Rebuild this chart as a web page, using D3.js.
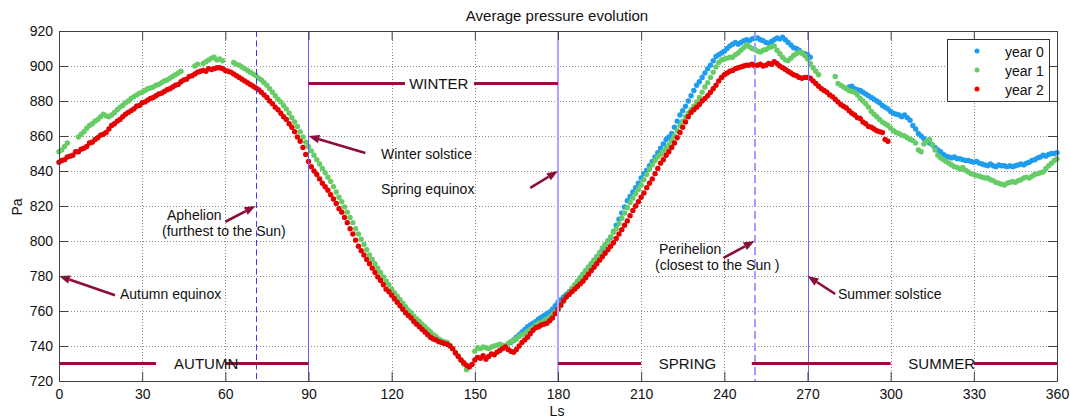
<!DOCTYPE html>
<html><head><meta charset="utf-8">
<script src="https://cdn.jsdelivr.net/npm/d3@7"></script>
<style>
body{margin:0;background:#fff}
svg{display:block}
text{font-family:"Liberation Sans",Arial,Helvetica,sans-serif;fill:#111}
</style>
</head><body>
<svg id="chart" width="1070" height="419"></svg>
<script>
// ---------------- DATA ----------------
const lsTicks = [0,30,60,90,120,150,180,210,240,270,300,330,360];
const paTicks = [720,740,760,780,800,820,840,860,880,900,920];
const seriesNames = ["year 0","year 1","year 2"];

// year 0 (blue): one value per Ls degree, starting at Ls 163
const year0Start = 163;
const year0 = [
742,743.5,745,746.5,748,749.5,751,
752,753,754,755.5,756.5,757.5,758.5,759.5,761,763,
765,766.5,768,769.5,771,772,774,776.5,779,781,
783,785,787,789,791,793,795,797.5,800,802,
805.5,809,812.5,816,819.5,823,825.5,828,830.5,833,
836,838.5,840.5,843,845.5,848,850.5,853,855.5,858,
859.5,861.5,865,868.5,872,874.5,877,880,883,886,
889,891,893.5,896,898.5,900.5,903,905.5,906.5,907.5,
908.5,910,911.5,912.5,913.5,912.5,913.5,914.5,915,914.5,
915.5,916,916,915,914.5,913.5,913,914,915,916,
915.5,916.5,915,913.5,912,910.5,910,909,907.5,907,
906.5,905,null,null,null,null,null,null,null,null,
null,null,null,null,null,888,888.5,887,886.5,886,
885,884,883,882,881,880,879,877.5,876.5,875.5,
874,873,872.5,872,871,872,870.5,869,866,864,
861.5,860,858.5,857,856,855,853.5,852,851,849.5,
848.5,848,847.5,848,847,847,846.5,846,846,845.5,
845,845.5,844.5,844,843.5,843,844,843,842.5,843.5,
843,843,842.5,843,842.5,843,843.5,844,843.5,844.5,
845,846,846.5,847.5,848,849,848.5,849.5,850,850,
850.5];

// year 1 (green): starting at Ls 0
const year1Start = 0;
const year1 = [
851,852,854,856,null,null,null,859.5,861,862.5,
864.5,866,867,868.5,869.5,871,872.5,871.5,871,872,
873.5,875,876.5,877.5,879,880,881.5,882.5,883.5,884.5,
885,886,887,887.5,888,889,889.5,890.5,891.5,892,
893,894,895,896,897,null,null,null,null,900,
901,null,901.5,902.5,903.5,904.5,905,903.5,904,903,
null,null,null,902,901,900.5,899.5,898.5,897.5,896.5,
895.5,894.5,893,892,890.5,889,887,885,883,881,
879.5,877.5,875.5,873,870.5,868,865.5,862.5,859.5,856.5,
854,851.5,849,846.5,844,841.5,839,836.5,834,831,
828,825,822.5,819.5,816.5,813.5,810.5,807,804,801,
798,795,792,789.5,787,784.5,782,779.5,777,775,
772.5,770.5,768.5,766.5,764.5,762.5,760.5,759,757,755.5,
754,752.5,751,749.5,748,746.5,745.5,744,743,742.5,
742,740.5,738.5,736.5,734.5,732,729.5,726.5,null,null,
737,739,738.5,739.5,739,738.5,739.5,740,740.5,741,
740.5,740,741.5,742.5,743,744,745.5,746.5,747,748.5,
749.5,750.5,752,753,753.5,754.5,755.5,756.5,758,759.5,
761,763,765.5,768,770.5,773,775,777,779,781,
783,785,787,789,791,793.5,796,798,800,802.5,
805,807,810,813,816,819,822,824.5,827,829.5,
832,835,838,841,843.5,846,848,849.5,851.5,853,
855,857.5,860,863,866,868.5,871,873,875,877,
879.5,882,885,888,890.5,893.5,896.5,899.5,902,903.5,
904,904.5,905,905,906.5,907.5,909,910.5,912,911,
910,909.5,908.5,908,909,909.5,910.5,911,911.5,909,
907,905,903.5,903,904.5,906,907,908,907.5,906,
904,901.5,899,897,895,null,null,null,null,null,
894,890,889,888,887,886,885.5,885,883.5,881.5,
880,878.5,876.5,874,872.5,871,869.5,868,867,866,
864.5,863,862,861.5,860.5,860,859,858,857.5,856,
852,851,855.5,857,858,855,852,849,847.5,846.5,
845.5,844.5,843.5,842.5,842,841,842,840.5,839.5,838.5,
838,837.5,837,836.5,836,836,835,834.5,833.5,833,
832.5,832,833,833.5,834,833.5,834.5,835,836,836.5,
836,837,838,838.5,839,839.5,841.5,843,844.5,846,
847];

// year 2 (red): starting at Ls 0
const year2Start = 0;
const year2 = [
845,846,846.5,848,848.5,849,851,851,852.5,853,
854,856,856.5,858,859,860.5,861,862,864,866,
867,868.5,869.5,871,872.5,873.5,874.5,875.5,877,877.5,
879,879.5,880.5,881.5,882,883,884,884.5,885.5,886.5,
887,888,889,889.5,891,892,892.5,894,894.5,895.5,
896.5,897,897.5,897,898.5,898,898.5,899,899,898.5,
897.5,897,896.5,895.5,894.5,893.5,892.5,891.5,890.5,889.5,
888.5,887.5,886.5,885,883.5,882,880,878.5,876.5,875,
873,871,869.5,867,865,862.5,859.5,857,853.5,849.5,
845.5,842.5,840,838,835.5,833,831,829,826.5,824,
821.5,818.5,816.5,813.5,810.5,807,804,800.5,797,794.5,
792,789.5,787,784.5,782,779.5,777.5,775,772.5,771,
769,767,765,763,761,759,757.5,756,754,752.5,
751,749.5,748,746.5,745,744,743.5,742.5,742,741.5,
741,740,738.5,736,734,732,730.5,729,728,729.5,
732,733.5,733,734.5,732.5,734,735.5,735,736.5,737.5,
738.5,739.5,738,737,736.5,738,740,742,743.5,745,
747,749,750.5,751,752,752.5,753,754.5,756,758.5,
761,763.5,766,768,769.5,771,772.5,774,775.5,777,
779,781,783,785,787,789,791,793,795,797,
799,801.5,804,806.5,809,811.5,814.5,817.5,820,822.5,
825,827.5,830.5,833,835.5,838.5,841.5,844.5,846.5,849,
851,853.5,856,859,862,865,868,871,873.5,875,
876.5,878,880,881.5,883,885,887,889,891.5,893.5,
895,896,897,897.5,898.5,899,899.5,900,900.5,900.5,
901,900,900.5,901,900,900.5,901.5,901,902.5,901.5,
900,899,898,897,896,895,894.5,893.5,893,893.5,
893.5,893,891.5,890,888.5,887,886,885,883.5,882.5,
881,879.5,878,877,876,874.5,873,872,870.5,870,
868,867,865.5,865,864,863,862.5,862,858,857];

// seasons: bar pieces [Ls from, Ls to] and label Ls
const seasonNames = ["AUTUMN","WINTER","SPRING","SUMMER"];
const seasonLevel = [730,890,730,730];
const seasonLabelLs = [53.1,137,226.7,318.4];
const seasonBars = [[[0,35],[60,90]],[[90,124.8],[149.7,180]],[[180,210],[249.9,300]],[[330,360]]];

// marker lines (Ls)
const markerLs = [70.9,90,180,250.9,270];

// annotations: arrow tip [Ls,Pa], arrow tail [Ls,Pa], text lines
const annotTexts = [["Autumn equinox"],["Winter solstice"],["Spring equinox"],["Aphelion","(furthest to the Sun)"],["Perihelion","(closest to the Sun )"],["Summer solstice"]];
const annotTips = [[0,780],[90,860],[180,840],[70.9,820],[250.9,800],[270,780]];
const annotTails = [[20.2,769],[110.5,850.3],[170,830.3],[60,811],[239.7,790.3],[280,769.7]];

// ---------------- LAYOUT / STYLE ----------------
const plotLeft = 59, plotRight = 1057, plotTop = 31, plotBottom = 381;
const colors = ["#1e9cf0","#66cc66","#e60000"];
const seasonColor = "#9a0f3e";
const arrowColor = "#8c0c3c";
const markerStyles = [
  {stroke:"#3a3aee", w:1, dash:"6,3.5"},
  {stroke:"#5c5cff", w:1, dash:null},
  {stroke:"#a8a8ff", w:2, dash:null},
  {stroke:"#a0a0ff", w:2, dash:"8,4"},
  {stroke:"#6a6aff", w:1, dash:null}
];
const annotTextPos = [[120,299,null],[381,159,null],[381,194,null],[167,220,162,236],[659,254,655,270],[838,299,null]];

const svg = d3.select("#chart");
const x = d3.scaleLinear().domain([0,360]).range([plotLeft,plotRight]);
const y = d3.scaleLinear().domain([720,920]).range([plotBottom,plotTop]);

// grid
const grid = svg.append("g");
grid.selectAll("line.gx").data(lsTicks.slice(1,-1).filter(t=>!markerLs.includes(t))).join("line")
  .attr("x1",d=>Math.round(x(d))+0.5).attr("x2",d=>Math.round(x(d))+0.5)
  .attr("y1",plotTop).attr("y2",plotBottom)
  .attr("stroke","#8a8a8a").attr("stroke-width",1).attr("stroke-dasharray","1,2");
grid.selectAll("line.gy").data(paTicks.slice(1,-1)).join("line")
  .attr("y1",d=>Math.round(y(d))+0.5).attr("y2",d=>Math.round(y(d))+0.5)
  .attr("x1",plotLeft).attr("x2",plotRight)
  .attr("stroke","#8a8a8a").attr("stroke-width",1).attr("stroke-dasharray","1,2");

// points
function toPoints(start, vals){
  return vals.map((v,i)=>({ls:start+i,p:v})).filter(d=>d.p!==null);
}
const allSeries = [toPoints(year0Start,year0),toPoints(year1Start,year1),toPoints(year2Start,year2)];
allSeries.forEach((pts,k)=>{
  svg.append("g").selectAll("circle").data(pts).join("circle")
    .attr("cx",d=>x(d.ls)).attr("cy",d=>y(d.p)).attr("r",2.7)
    .attr("fill",colors[k]);
});

// marker vertical lines
markerLs.forEach((m,i)=>{
  const s = markerStyles[i];
  const xp = s.w === 1 ? Math.round(x(m)/2)*2 + 0.5 : Math.round(x(m));
  const l = svg.append("line")
    .attr("x1",xp).attr("x2",xp)
    .attr("y1",plotTop).attr("y2",plotBottom)
    .attr("stroke",s.stroke).attr("stroke-width",s.w);
  if(s.dash) l.attr("stroke-dasharray",s.dash);
});

// season bars & labels
seasonNames.forEach((name,i)=>{
  seasonBars[i].forEach(seg=>{
    svg.append("line")
      .attr("x1",x(seg[0])).attr("x2",x(seg[1]))
      .attr("y1",y(seasonLevel[i])).attr("y2",y(seasonLevel[i]))
      .attr("stroke",seasonColor).attr("stroke-width",3);
  });
  svg.append("text").attr("x",x(seasonLabelLs[i])).attr("y",y(seasonLevel[i])+5.5)
    .attr("text-anchor","middle").style("font-size","15px").text(name);
});

// annotations
annotTexts.forEach((lines,i)=>{
  const tx = x(annotTips[i][0]), ty = y(annotTips[i][1]);
  const sx = x(annotTails[i][0]), sy = y(annotTails[i][1]);
  const ang = Math.atan2(ty-sy, tx-sx);
  const hl = 11, hw = 4.2;
  const bx = tx - hl*Math.cos(ang), by = ty - hl*Math.sin(ang);
  svg.append("line").attr("x1",sx).attr("y1",sy).attr("x2",bx).attr("y2",by)
    .attr("stroke",arrowColor).attr("stroke-width",2.6);
  const px = -Math.sin(ang)*hw, py = Math.cos(ang)*hw;
  svg.append("polygon")
    .attr("points",[[tx,ty],[bx+px,by+py],[bx-px,by-py]].map(p=>p.join(",")).join(" "))
    .attr("fill",arrowColor);
  const pos = annotTextPos[i];
  svg.append("text").attr("x",pos[0]).attr("y",pos[1]).style("font-size","14px").text(lines[0]);
  if(lines.length>1){
    svg.append("text").attr("x",pos[2]).attr("y",pos[3]).style("font-size","14px").text(lines[1]);
  }
});

// axes (box with inward ticks)
const axColor = "#404040";
function styleAxis(g, showText){
  g.select(".domain").attr("stroke",axColor);
  g.selectAll(".tick line").attr("stroke",axColor);
  g.selectAll(".tick text").style("font-size","14px").attr("fill","#111")
    .style("font-family",'"Liberation Sans",Arial,sans-serif');
  if(!showText) g.selectAll(".tick text").remove();
}
styleAxis(svg.append("g").attr("transform",`translate(0,${plotBottom})`)
  .call(d3.axisBottom(x).tickValues(lsTicks).tickSize(-9).tickSizeOuter(0).tickPadding(8)), true);
styleAxis(svg.append("g").attr("transform",`translate(0,${plotTop})`)
  .call(d3.axisTop(x).tickValues(lsTicks).tickSize(-9).tickSizeOuter(0)), false);
styleAxis(svg.append("g").attr("transform",`translate(${plotLeft},0)`)
  .call(d3.axisLeft(y).tickValues(paTicks).tickSize(-9).tickSizeOuter(0).tickPadding(6)), true);
styleAxis(svg.append("g").attr("transform",`translate(${plotRight},0)`)
  .call(d3.axisRight(y).tickValues(paTicks).tickSize(-9).tickSizeOuter(0)), false);

// titles
svg.append("text").attr("x",557).attr("y",21).attr("text-anchor","middle")
  .style("font-size","15px").text("Average pressure evolution");
svg.append("text").attr("x",557).attr("y",416).attr("text-anchor","middle")
  .style("font-size","14px").text("Ls");
svg.append("text").attr("transform","translate(22,207) rotate(-90)").attr("text-anchor","middle")
  .style("font-size","14px").text("Pa");

// legend
const lg = svg.append("g");
lg.append("rect").attr("x",947.5).attr("y",39.5).attr("width",102).attr("height",62)
  .attr("fill","#fff").attr("stroke","#333");
seriesNames.forEach((n,i)=>{
  lg.append("circle").attr("cx",977).attr("cy",51+i*19).attr("r",2.5).attr("fill",colors[i]);
  lg.append("text").attr("x",1005).attr("y",56.5+i*19).style("font-size","14px").text(n);
});
</script>
</body></html>
